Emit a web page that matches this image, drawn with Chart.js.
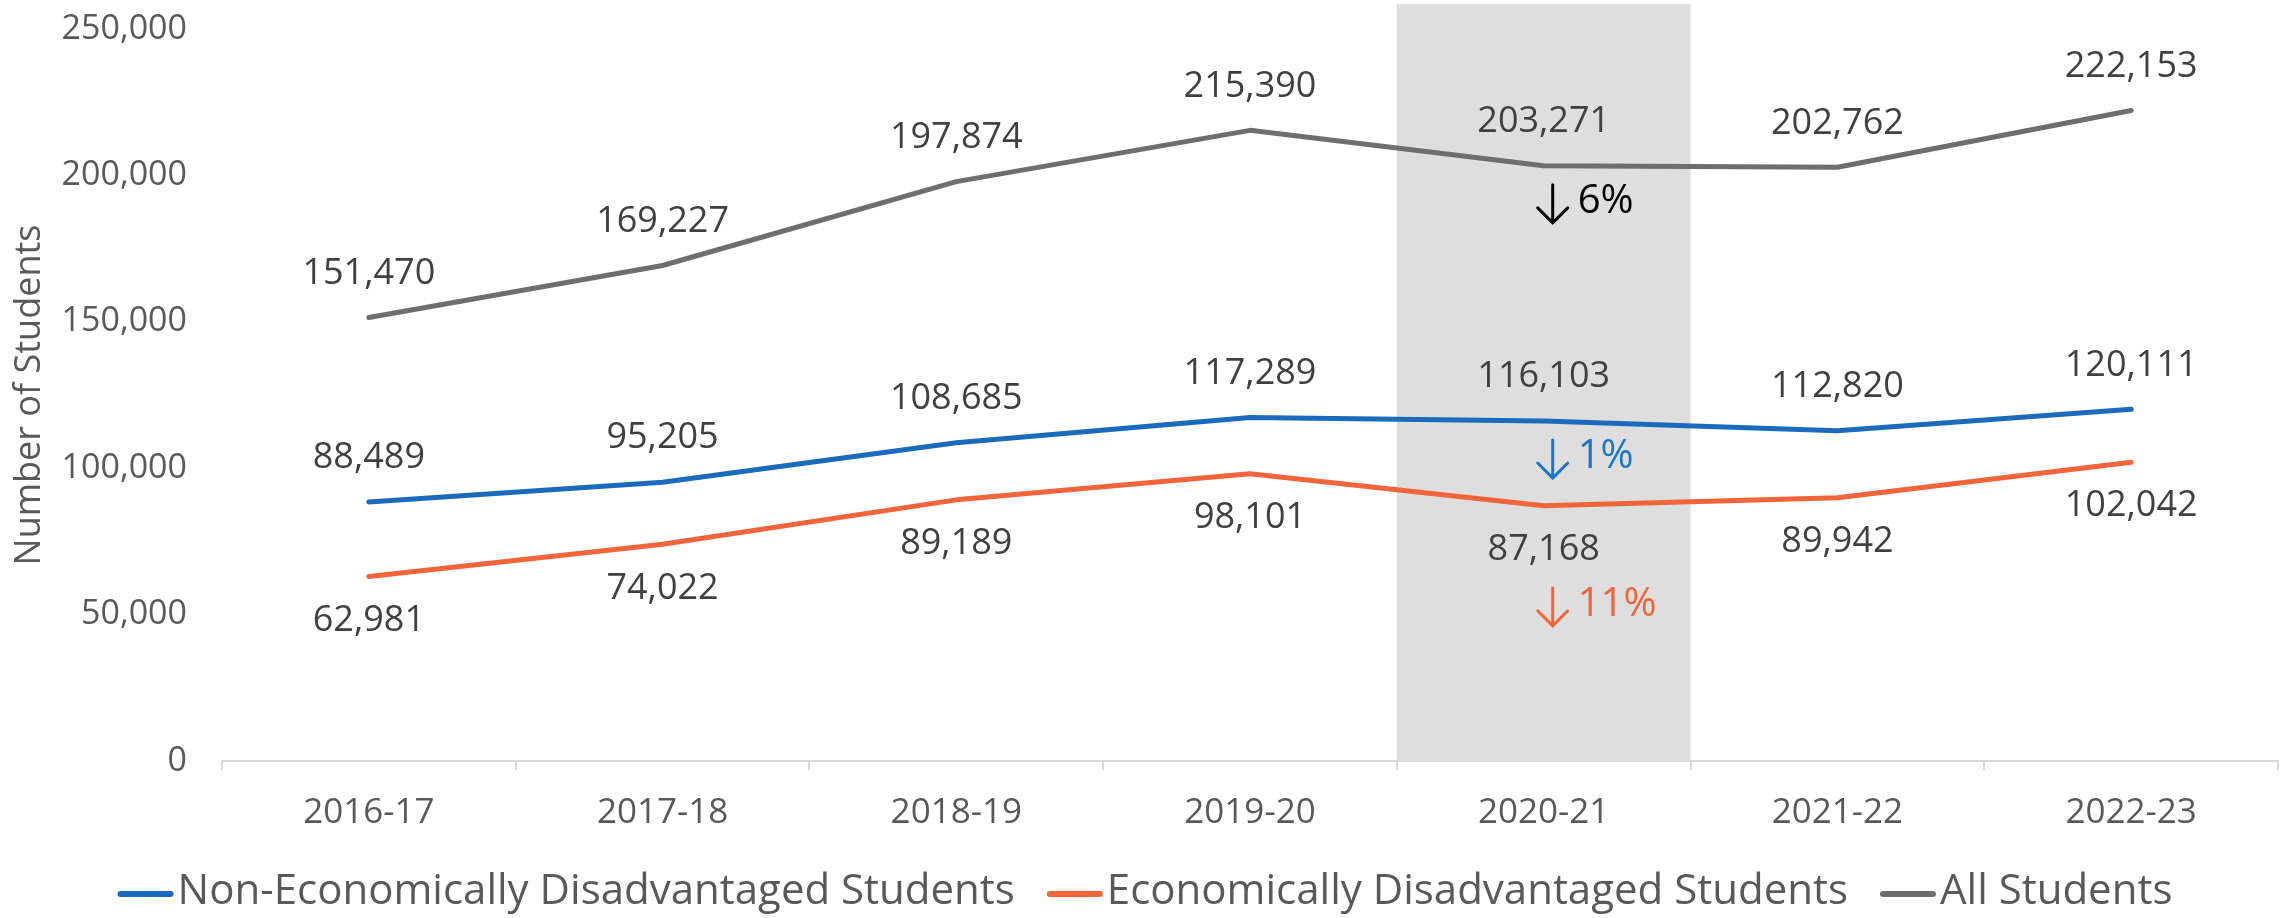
<!DOCTYPE html>
<html>
<head>
<meta charset="utf-8">
<script src="https://cdn.jsdelivr.net/npm/chart.js@4.4.1/dist/chart.umd.min.js"></script>
<style>
  html, body { margin: 0; padding: 0; background: #fff; }
  #wrap { width: 2290px; height: 918px; }
</style>
</head>
<body>
<div id="wrap"><canvas id="chart"></canvas></div>
<script>
var years = ["2016-17", "2017-18", "2018-19", "2019-20", "2020-21", "2021-22", "2022-23"];
var nonEcon = [88489, 95205, 108685, 117289, 116103, 112820, 120111];
var econ = [62981, 74022, 89189, 98101, 87168, 89942, 102042];
var allStudents = [151470, 169227, 197874, 215390, 203271, 202762, 222153];
var yTicks = [0, 50000, 100000, 150000, 200000, 250000];

var seriesNames = ["Non-Economically Disadvantaged Students", "Economically Disadvantaged Students", "All Students"];
var seriesColors = ["#1b6bbd", "#f2643a", "#6e6e6e"];
var labelSide = ["above", "below", "above"];

// drop shown for the highlighted year
var highlightYear = "2020-21";
var changeText = ["1%", "11%", "6%"];
var changeColors = ["#1b75c8", "#f2643a", "#000000"];
var changeOffset = [36, 99, 36];

Chart.defaults.font.family = '"Open Sans", sans-serif';

var bandPlugin = {
    id: "band",
    beforeDatasetsDraw: function (chart) {
        var x = chart.scales.x;
        var i = years.indexOf(highlightYear);
        var half = (x.getPixelForValue(1) - x.getPixelForValue(0)) / 2;
        var cx = x.getPixelForValue(i);
        var ctx = chart.ctx;
        ctx.save();
        ctx.fillStyle = "#dedede";
        ctx.fillRect(cx - half, 4, half * 2, chart.chartArea.bottom - 4);
        ctx.restore();
    }
};

var labelPlugin = {
    id: "valueLabels",
    afterDatasetsDraw: function (chart) {
        var ctx = chart.ctx;
        ctx.save();
        ctx.font = '36px "Open Sans"';
        ctx.fillStyle = "#404040";
        ctx.textAlign = "center";
        ctx.textBaseline = "middle";
        chart.data.datasets.forEach(function (ds, di) {
            var meta = chart.getDatasetMeta(di);
            meta.data.forEach(function (pt, i) {
                var dy = labelSide[di] === "above" ? -44 : 44;
                ctx.fillText(ds.data[i].toLocaleString("en-US"), pt.x, pt.y + dy);
            });
        });

        // arrows + percent drop
        var idx = years.indexOf(highlightYear);
        chart.data.datasets.forEach(function (ds, di) {
            var pt = chart.getDatasetMeta(di).data[idx];
            var cy = pt.y + changeOffset[di];
            var ax = pt.x + 9;
            var top = cy - 17, bot = cy + 21;
            ctx.strokeStyle = changeColors[di];
            ctx.lineWidth = 3;
            ctx.lineCap = "round";
            ctx.beginPath();
            ctx.moveTo(ax, top);
            ctx.lineTo(ax, bot);
            ctx.moveTo(ax - 15, bot - 15);
            ctx.lineTo(ax, bot);
            ctx.lineTo(ax + 15, bot - 15);
            ctx.stroke();
            ctx.font = '40px "Open Sans"';
            ctx.fillStyle = changeColors[di];
            ctx.textAlign = "left";
            ctx.fillText(changeText[di], pt.x + 34, cy);
        });
        ctx.restore();
    }
};

var legendPlugin = {
    id: "bottomLegend",
    afterDraw: function (chart) {
        var ctx = chart.ctx;
        ctx.save();
        ctx.font = '42px "Open Sans"';
        var sw = 56, gap = 4, itemGap = 32;
        var widths = seriesNames.map(function (t) { return ctx.measureText(t).width; });
        var total = 0;
        widths.forEach(function (w) { total += sw + gap + w; });
        total += itemGap * (seriesNames.length - 1);
        var x = (chart.width - total) / 2;
        var y = 892;
        ctx.textBaseline = "middle";
        ctx.textAlign = "left";
        seriesNames.forEach(function (t, i) {
            ctx.strokeStyle = seriesColors[i];
            ctx.lineWidth = 6;
            ctx.lineCap = "round";
            ctx.beginPath();
            ctx.moveTo(x + 3, y + 2);
            ctx.lineTo(x + sw - 3, y + 2);
            ctx.stroke();
            ctx.fillStyle = "#595959";
            ctx.fillText(t, x + sw + gap, y);
            x += sw + gap + widths[i] + itemGap;
        });
        ctx.restore();
    }
};

function makeSet(i, values) {
    return {
        label: seriesNames[i],
        data: values,
        borderColor: seriesColors[i],
        backgroundColor: seriesColors[i],
        borderWidth: 5,
        borderCapStyle: "round",
        borderJoinStyle: "round",
        pointRadius: 0,
        tension: 0
    };
}

new Chart(document.getElementById("chart"), {
    type: "line",
    data: {
        labels: years,
        datasets: [makeSet(0, nonEcon), makeSet(1, econ), makeSet(2, allStudents)]
    },
    options: {
        responsive: true,
        maintainAspectRatio: false,
        animation: false,
        layout: { padding: { top: 29, right: 12, left: 0, bottom: 0 } },
        plugins: {
            legend: { display: false },
            tooltip: { enabled: false }
        },
        scales: {
            x: {
                offset: true,
                afterFit: function (s) { s.height = 157; },
                grid: {
                    offset: true,
                    drawOnChartArea: false,
                    drawTicks: true,
                    tickLength: 9,
                    color: "#d9d9d9",
                    lineWidth: 2
                },
                border: { color: "#d9d9d9", width: 2 },
                ticks: {
                    color: "#595959",
                    font: { size: 35 },
                    padding: 22,
                    maxRotation: 0
                }
            },
            y: {
                min: 0,
                max: 250000,
                afterFit: function (s) { s.width = 222; },
                afterBuildTicks: function (s) {
                    s.ticks = yTicks.map(function (v) { return { value: v }; });
                },
                // invisible tick marks give the gap between labels and plot
                grid: {
                    display: true,
                    drawOnChartArea: false,
                    drawTicks: true,
                    tickLength: 35,
                    color: "rgba(0,0,0,0)"
                },
                border: { display: false },
                ticks: {
                    color: "#595959",
                    font: { size: 34 },
                    padding: 0,
                    callback: function (v) { return v.toLocaleString("en-US"); }
                },
                title: {
                    display: true,
                    text: "Number of Students",
                    color: "#595959",
                    font: { size: 36 },
                    padding: { top: 8, bottom: 0 }
                }
            }
        }
    },
    plugins: [bandPlugin, labelPlugin, legendPlugin]
});
</script>
</body>
</html>
